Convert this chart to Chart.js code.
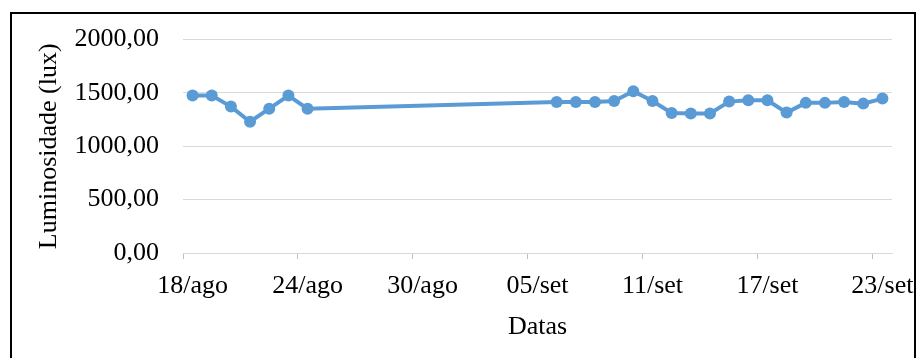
<!DOCTYPE html>
<html lang="pt">
<head>
  <meta charset="UTF-8">
  <title>Luminosidade</title>
  <style>
    body { margin: 0; background: #fff; }
    .moldura {
      position: absolute; left: 10px; top: 12px;
      width: 906px; height: 360px;
      box-sizing: border-box; border: 2px solid #000;
    }
    .chartBox {
      position: absolute; left: 0; top: 0;
      width: 917px; height: 358px;
    }
  </style>
</head>
<body>
  <div class="moldura"></div>
  <div class="chartBox">
    <canvas id="myChart"></canvas>
  </div>

<script src="https://cdn.jsdelivr.net/npm/chart.js"></script>
<script>
  // medições de agosto e setembro
  const datasAgo = ['18/ago', '19/ago', '20/ago', '21/ago', '22/ago', '23/ago', '24/ago'];
  const luxAgo   = [1475, 1475, 1372, 1230, 1353, 1475, 1353];

  const datasSet = ['06/set', '07/set', '08/set', '09/set', '10/set', '11/set', '12/set', '13/set', '14/set',
                    '15/set', '16/set', '17/set', '18/set', '19/set', '20/set', '21/set', '22/set', '23/set'];
  const luxSet   = [1416, 1416, 1416, 1425, 1516, 1425, 1313, 1307, 1307,
                    1419, 1432, 1432, 1316, 1407, 1407, 1416, 1400, 1447];

  const yTicks = [0, 500, 1000, 1500, 2000];

  // eixo de datas: um rótulo por dia, de 18/ago a 23/set
  const labels = [];
  for (let d = 18; d <= 31; d++) labels.push(d + '/ago');
  for (let d = 1; d <= 23; d++) labels.push(String(d).padStart(2, '0') + '/set');

  const valores = labels.map(l => {
    let i = datasAgo.indexOf(l);
    if (i >= 0) return luxAgo[i];
    i = datasSet.indexOf(l);
    if (i >= 0) return luxSet[i];
    return null;
  });

  const fonte = { family: '"Liberation Serif", "Times New Roman", serif', size: 26 };
  const azul = '#5b9bd5';

  new Chart(document.getElementById('myChart'), {
    type: 'line',
    data: {
      labels: labels,
      datasets: [{
        data: valores,
        borderColor: azul,
        backgroundColor: azul,
        borderWidth: 4,
        pointRadius: 6,
        pointBorderWidth: 0,
        pointBackgroundColor: azul,
        spanGaps: true,
        tension: 0
      }]
    },
    options: {
      responsive: true,
      maintainAspectRatio: false,
      animation: false,
      layout: { padding: { top: 38, right: 25, left: 34, bottom: 11 } },
      plugins: { legend: { display: false }, tooltip: { enabled: false } },
      scales: {
        x: {
          offset: true,
          grid: {
            offset: true,
            drawOnChartArea: false,
            tickLength: 6,
            tickColor: ctx => (ctx.index % 6 === 0 ? '#bfbfbf' : 'rgba(0,0,0,0)')
          },
          border: { color: '#d9d9d9' },
          ticks: {
            autoSkip: false,
            maxRotation: 0,
            padding: 12,
            color: '#000',
            font: fonte,
            callback: (v, i) => (i % 6 === 0 ? labels[i] : '')
          },
          title: { display: true, text: 'Datas', color: '#000', font: fonte, padding: 4 },
          afterFit: s => {
            s.height = 358 - 11 - 253;
            s.paddingLeft = 0;
            s.paddingRight = 0;
          }
        },
        y: {
          min: 0,
          max: 2000,
          afterBuildTicks: s => { s.ticks = yTicks.map(v => ({ value: v })); },
          grid: { color: '#d9d9d9', drawTicks: false },
          border: { display: false },
          ticks: {
            padding: 24,
            color: '#000',
            font: fonte,
            callback: v => v.toFixed(2).replace('.', ',')
          },
          title: { display: true, text: 'Luminosidade (lux)', color: '#000', font: fonte, padding: 0 },
          afterFit: s => { s.width = 183 - 34; }
        }
      }
    }
  });
</script>
</body>
</html>
